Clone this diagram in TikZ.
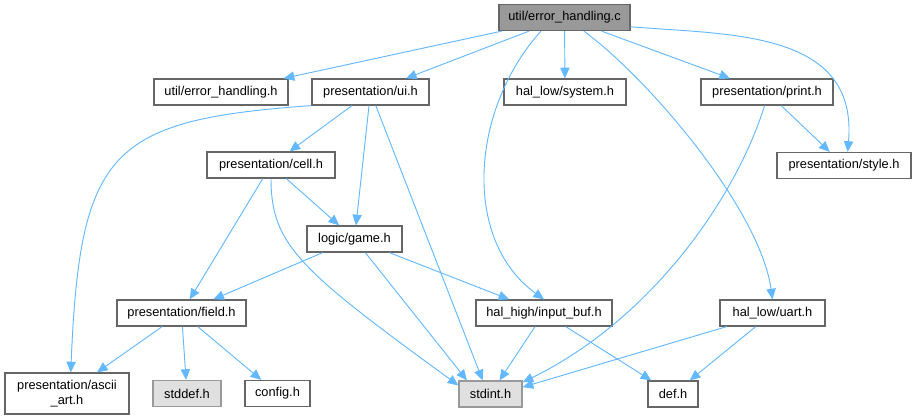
\documentclass[tikz,border=0pt]{standalone}
\usepackage{fontspec}
\setmainfont{Liberation Sans}
\usepackage{tikz}
\usetikzlibrary{arrows.meta}
\definecolor{cEdge}{HTML}{63B8FF}
\definecolor{cLine}{HTML}{666666}
\definecolor{cRoot}{HTML}{999999}
\definecolor{cSys}{HTML}{E0E0E0}

\begin{document}
\begin{tikzpicture}[x=0.75pt, y=-0.75pt,
    file/.style={draw=cLine, line width=0.9pt, fill=white, minimum height=19.5pt, inner sep=0pt,
        font=\fontsize{9.6}{11.25}\selectfont},
    sysfile/.style={file, draw=cRoot, fill=cSys},
    dep/.style={color=cEdge, line width=0.7pt, -{Triangle[length=8pt, width=7pt]}}]
    \useasboundingbox (0,0) rectangle (916,420);

    \node[file, fill=cRoot, minimum width=98.25pt] (errc) at (564.5,17.5) {util/error\_handling.c};
    \node[file, minimum width=100.5pt] (errh) at (221,92) {util/error\_handling.h};
    \node[file, minimum width=87.75pt] (ui) at (370.5,92) {presentation/ui.h};
    \node[file, minimum width=91.5pt] (system) at (565,92) {hal\_low/system.h};
    \node[file, minimum width=99pt] (print) at (767,92) {presentation/print.h};
    \node[file, minimum width=100.5pt] (style) at (844,165.5) {presentation/style.h};
    \node[file, minimum width=96pt] (cell) at (271,165) {presentation/cell.h};
    \node[file, minimum width=71.25pt] (game) at (354.5,239) {logic/game.h};
    \node[file, minimum width=96.75pt] (field) at (181.5,313) {presentation/field.h};
    \node[file, minimum width=102pt] (inbuf) at (544,313) {hal\_high/input\_buf.h};
    \node[file, minimum width=78.75pt] (uart) at (772.5,313) {hal\_low/uart.h};
    \node[file, minimum width=93pt, minimum height=30.75pt, align=center] (ascii) at (67,393.5) {presentation/ascii\\\_art.h};
    \node[sysfile, minimum width=51pt] (stddef) at (187,393.5) {stddef.h};
    \node[file, minimum width=48.75pt] (config) at (277.5,393.5) {config.h};
    \node[sysfile, minimum width=47.25pt] (stdint) at (490.5,394) {stdint.h};
    \node[file, minimum width=37.5pt] (def) at (673,394) {def.h};

    \path[dep]
    (errc) edge (errh)
           edge (ui)
           edge (system)
           edge (print)
    (ui)   edge (cell)
           edge (game)
           edge (stdint.120)
    (cell) edge (field)
           edge (game)
    (game) edge (field)
           edge (inbuf)
           edge (stdint.150)
    (field) edge (ascii)
            edge (stddef)
            edge (config)
    (inbuf) edge (stdint)
            edge (def)
    (print) edge (style)
    (uart)  edge (stdint.12)
            edge (def);

    % curved dependencies
    \draw[dep] (errc.210) .. controls (470,110) and (462,240) .. (inbuf.north);
    \draw[dep] (errc.-35) .. controls (650,80) and (760,210) .. (uart.north);
    \draw[dep] (errc.-8) .. controls (730,35) and (858,30) .. (style.75);
    \draw[dep] (print.-100) .. controls (735,200) and (650,320) .. (stdint.20);
    \draw[dep] (ui.south west) .. controls (110,120) and (80,150) .. (ascii.80);
    \draw[dep] (cell.south) .. controls (271,245) and (300,270) .. (stdint.165);
\end{tikzpicture}
\end{document}
